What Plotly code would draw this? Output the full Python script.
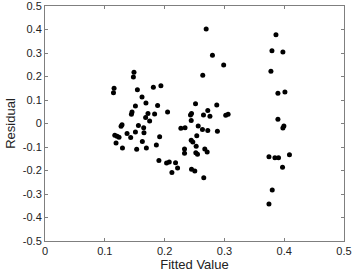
import plotly.graph_objects as go

fitted = [
    0.1155, 0.1145, 0.1488, 0.1478, 0.1545, 0.1812, 0.1938, 0.1622, 0.1688, 0.1512,
    0.1883, 0.1455, 0.1445, 0.1722, 0.1833, 0.2050, 0.1683, 0.1750, 0.1288, 0.1272,
    0.1562, 0.1650, 0.1655, 0.1167, 0.1205, 0.1238, 0.1188, 0.1295, 0.1372, 0.1433,
    0.1512, 0.1628, 0.1533, 0.1695, 0.1917, 0.1862, 0.1905, 0.2033, 0.2078, 0.2183,
    0.2217, 0.2122,
    0.2695, 0.2800, 0.2988, 0.2638, 0.2517, 0.2722, 0.2872, 0.2433, 0.2450, 0.2650,
    0.2758, 0.3022, 0.3062, 0.2445, 0.2272, 0.2342, 0.2562, 0.2633, 0.2722, 0.2883,
    0.2538, 0.2445, 0.2472, 0.2528, 0.2333, 0.2333, 0.2522, 0.2550, 0.2672, 0.2712,
    0.2450, 0.2505, 0.2655,
    0.3862, 0.3795, 0.3978, 0.3778, 0.3895, 0.4012, 0.3895, 0.3995, 0.3978, 0.3745,
    0.3845, 0.3905, 0.4088, 0.3972, 0.3800, 0.3745,
]
residual = [
    0.150, 0.131, 0.218, 0.198, 0.144, 0.154, 0.161, 0.113, 0.087, 0.074,
    0.077, 0.049, 0.039, 0.043, 0.040, 0.049, 0.026, 0.011, -0.005, -0.012,
    -0.009, -0.018, -0.039, -0.050, -0.054, -0.059, -0.083, -0.104, -0.043, -0.060,
    -0.036, -0.077, -0.110, -0.104, -0.056, -0.091, -0.157, -0.168, -0.164, -0.167,
    -0.189, -0.208,
    0.402, 0.290, 0.249, 0.205, 0.084, 0.055, 0.079, 0.036, 0.043, 0.036,
    0.031, 0.035, 0.039, 0.013, -0.020, -0.018, -0.011, -0.026, -0.030, -0.033,
    -0.052, -0.071, -0.079, -0.097, -0.109, -0.127, -0.124, -0.131, -0.109, -0.121,
    -0.195, -0.202, -0.231,
    0.378, 0.310, 0.304, 0.222, 0.129, 0.134, 0.018, -0.011, -0.019, -0.141,
    -0.146, -0.146, -0.133, -0.186, -0.283, -0.343,
]

x_ticks = [0, 0.1, 0.2, 0.3, 0.4, 0.5]
x_labels = ["0", "0.1", "0.2", "0.3", "0.4", "0.5"]
y_ticks = [-0.5, -0.4, -0.3, -0.2, -0.1, 0, 0.1, 0.2, 0.3, 0.4, 0.5]
y_labels = ["-0.5", "-0.4", "-0.3", "-0.2", "-0.1", "0", "0.1", "0.2", "0.3", "0.4", "0.5"]

FONT = "Liberation Sans, Arial, sans-serif"

fig = go.Figure(go.Scatter(
    x=fitted, y=residual, mode="markers",
    marker=dict(color="black", size=5, line=dict(width=0)),
    showlegend=False,
))

axis_common = dict(
    showgrid=False, zeroline=False, showline=True, linecolor="#7f7f7f", linewidth=1,
    mirror="ticks", ticks="inside", ticklen=3, tickcolor="#7f7f7f", automargin=False,
    ticklabeloverflow="allow",
    tickfont=dict(family=FONT, size=11, color="#222"),
)

fig.update_layout(
    width=354, height=273,
    margin=dict(l=45, r=10, t=6, b=32),
    paper_bgcolor="white", plot_bgcolor="white",
    xaxis=dict(range=[0, 0.5], tickvals=x_ticks, ticktext=x_labels, ticklabelstandoff=0,
               title=dict(text="Fitted Value", standoff=0,
                          font=dict(family=FONT, size=13, color="#222")),
               **axis_common),
    yaxis=dict(range=[-0.5, 0.5], tickvals=y_ticks, ticktext=y_labels,
               title=dict(text="Residual", standoff=4,
                          font=dict(family=FONT, size=13, color="#222")),
               **axis_common),
)

fig.write_html(
    "out.html",
    config={"displayModeBar": False},
    post_script="document.body.style.margin='0';document.body.style.overflow='hidden';",
)
